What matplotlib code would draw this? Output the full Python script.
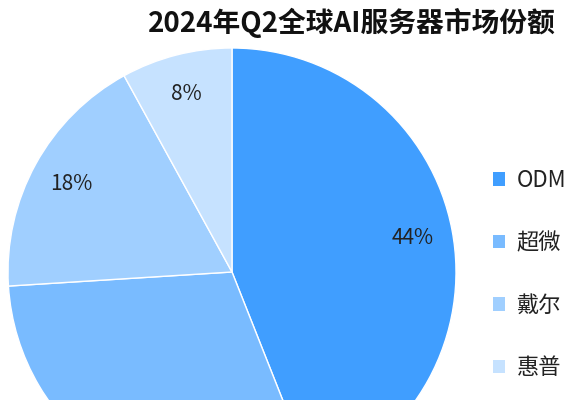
import matplotlib.pyplot as plt
from matplotlib.patches import Patch

plt.rcParams['font.family'] = ['Noto Sans CJK SC', 'DejaVu Sans']

# Market share data
vendors = ["ODM", "超微", "戴尔", "惠普"]
shares = [44, 30, 18, 8]
colors = ["#409EFF", "#79BBFF", "#A0CFFF", "#C6E2FF"]

W, H = 584, 400
fig = plt.figure(figsize=(W / 100, H / 100), dpi=100)

# pie centre (232, 272) px, radius 224 px -> axes spans a 448 px square
cx, cy, r = 232, 272, 224
ax = fig.add_axes([(cx - r) / W, (H - cy - r) / H, 2 * r / W, 2 * r / H])
wedges, texts, autotexts = ax.pie(
    shares, colors=colors, startangle=90, counterclock=False,
    autopct="%d%%", pctdistance=0.82, radius=1,
    wedgeprops=dict(edgecolor="white", linewidth=1),
    textprops=dict(fontsize=15, color="#222222"))
ax.set_xlim(-1, 1)
ax.set_ylim(-1, 1)

fig.text(0.603, 0.9425, "2024年Q2全球AI服务器市场份额", ha="center", va="center",
         fontsize=20, fontweight="bold", color="#111111")

handles = [Patch(facecolor=c, edgecolor="none") for c in colors]
fig.legend(handles, vendors, loc="upper left", bbox_to_anchor=(0.81, 0.628),
           frameon=False, fontsize=16, handlelength=0.55, handleheight=0.55,
           handletextpad=0.5, labelspacing=1.78, labelcolor="#222222")

fig.savefig("out.png", dpi=100)
